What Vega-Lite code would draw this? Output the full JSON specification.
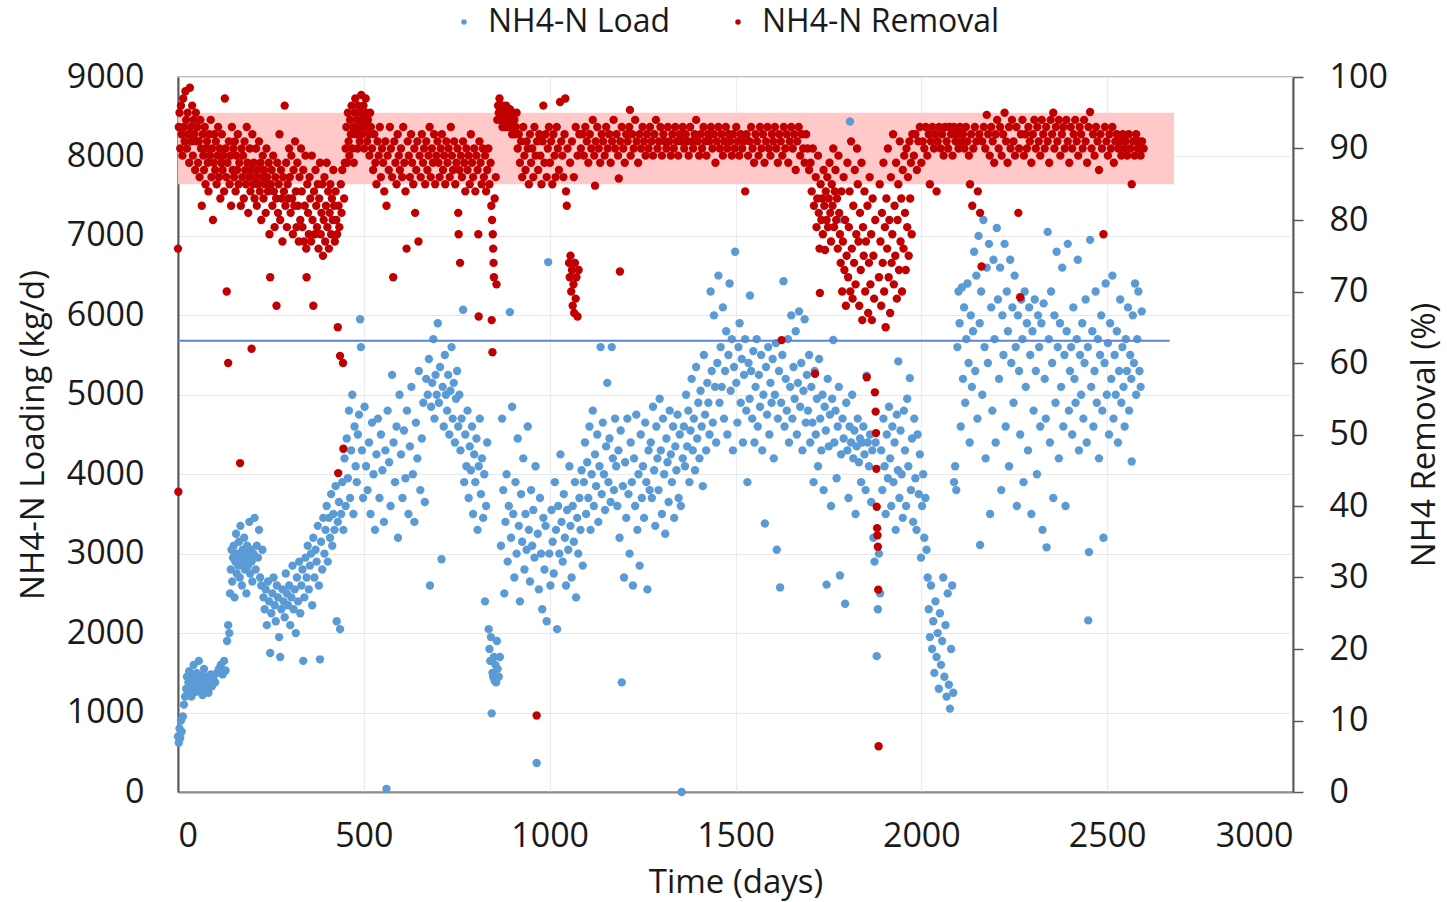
{
"$schema": "https://vega.github.io/schema/vega-lite/v6.json",
"width": 1115,
"height": 715,
"autosize": {"type": "none"},
"padding": {"left": 178, "top": 77, "right": 154, "bottom": 110},
"background": "white",
"config": {
  "font": "Open Sans",
  "view": {"stroke": "#a6a6a6", "strokeWidth": 1.5},
  "axis": {"labelFontSize": 34, "titleFontSize": 33, "labelColor": "#1a1a1a", "titleColor": "#1a1a1a", "titleFontWeight": "normal", "gridColor": "#e8e8e8", "gridWidth": 1.2, "domainColor": "#595959", "tickColor": "#595959", "domainWidth": 2, "format": "d"}
},
"datasets": {
  "band": [{"t0": 0, "t1": 2680, "lo": 85, "hi": 95}],
  "line": [{"t0": 0, "t1": 2668, "v": 5680}],
  "load": [
{"t":0,"v":700},{"t":2,"v":620},{"t":4,"v":800},{"t":6,"v":680},{"t":8,"v":900},{"t":10,"v":760},{"t":13,"v":950},{"t":16,"v":1100},{"t":19,"v":1200},
{"t":22,"v":1300},{"t":24,"v":1450},{"t":26,"v":1250},{"t":28,"v":1380},{"t":30,"v":1520},{"t":32,"v":1330},{"t":34,"v":1410},{"t":36,"v":1200},{"t":38,"v":1480},{"t":40,"v":1350},{"t":42,"v":1600},{"t":44,"v":1300},{"t":46,"v":1420},{"t":48,"v":1260},{"t":50,"v":1500},{"t":52,"v":1380},{"t":54,"v":1330},{"t":56,"v":1650},{"t":58,"v":1440},{"t":60,"v":1310},{"t":62,"v":1390},{"t":64,"v":1470},{"t":66,"v":1220},{"t":68,"v":1360},{"t":70,"v":1550},{"t":72,"v":1400},{"t":74,"v":1290},{"t":76,"v":1450},{"t":78,"v":1350},{"t":80,"v":1410},{"t":82,"v":1250},{"t":85,"v":1380},{"t":88,"v":1480},{"t":91,"v":1330},{"t":95,"v":1430},{"t":100,"v":1380},{"t":105,"v":1500},{"t":110,"v":1550},{"t":115,"v":1600},{"t":120,"v":1480},{"t":124,"v":1650},{"t":128,"v":1530},
{"t":132,"v":1900},{"t":135,"v":2100},{"t":138,"v":2000},{"t":140,"v":2500},{"t":142,"v":2800},{"t":144,"v":3050},{"t":146,"v":2650},{"t":148,"v":2950},{"t":150,"v":3100},{"t":152,"v":2450},{"t":154,"v":2900},{"t":156,"v":3250},{"t":158,"v":2750},{"t":160,"v":3000},{"t":162,"v":2850},{"t":164,"v":3150},{"t":166,"v":2700},{"t":168,"v":3350},{"t":170,"v":2950},{"t":172,"v":2600},{"t":174,"v":3050},{"t":176,"v":2900},{"t":178,"v":3200},{"t":180,"v":2800},{"t":182,"v":3000},{"t":184,"v":2500},{"t":186,"v":3100},{"t":188,"v":2850},{"t":190,"v":2950},{"t":192,"v":3400},{"t":194,"v":2750},{"t":196,"v":3050},{"t":198,"v":2900},{"t":200,"v":2650},{"t":203,"v":3000},{"t":206,"v":3450},{"t":209,"v":2800},{"t":212,"v":3100},{"t":215,"v":2950},{"t":218,"v":3300},{"t":221,"v":2700},{"t":224,"v":2600},{"t":227,"v":3050},{"t":230,"v":2450},
{"t":233,"v":2300},{"t":236,"v":2550},{"t":239,"v":2100},{"t":242,"v":2650},{"t":245,"v":2400},{"t":248,"v":1750},{"t":251,"v":2250},{"t":254,"v":2500},{"t":257,"v":2700},{"t":260,"v":2350},{"t":263,"v":2150},{"t":266,"v":2600},{"t":269,"v":2450},{"t":272,"v":1950},{"t":275,"v":1700},{"t":278,"v":2300},{"t":281,"v":2550},{"t":284,"v":2400},{"t":287,"v":2200},{"t":290,"v":2750},{"t":293,"v":2500},{"t":296,"v":2350},{"t":299,"v":2600},{"t":302,"v":2100},{"t":305,"v":2450},{"t":308,"v":2850},{"t":311,"v":2300},{"t":314,"v":2550},{"t":317,"v":2000},{"t":320,"v":2700},{"t":323,"v":2400},{"t":326,"v":2900},{"t":329,"v":2250},
{"t":332,"v":2600},{"t":335,"v":2800},{"t":337,"v":1650},{"t":340,"v":2450},{"t":343,"v":2950},{"t":346,"v":2700},{"t":349,"v":3100},{"t":352,"v":2550},{"t":355,"v":2850},{"t":358,"v":3000},{"t":361,"v":2350},{"t":364,"v":3200},{"t":367,"v":2700},{"t":370,"v":3050},{"t":373,"v":2900},{"t":376,"v":3350},{"t":379,"v":2600},{"t":382,"v":1670},{"t":385,"v":3150},{"t":388,"v":2800},{"t":391,"v":3450},{"t":394,"v":3000},{"t":397,"v":3300},{"t":400,"v":3600},{"t":403,"v":2900},{"t":406,"v":3450},{"t":409,"v":3200},{"t":412,"v":3750},{"t":415,"v":3100},{"t":418,"v":3500},{"t":421,"v":3300},{"t":424,"v":3850},{"t":427,"v":2150},{"t":430,"v":3400},{"t":433,"v":3650},{"t":436,"v":2050},{"t":439,"v":3500},{"t":442,"v":3900},{"t":445,"v":3300},
{"t":448,"v":4200},{"t":451,"v":3600},{"t":454,"v":4450},{"t":457,"v":3950},{"t":460,"v":4800},{"t":463,"v":3700},{"t":466,"v":4300},{"t":469,"v":5000},{"t":472,"v":3500},{"t":475,"v":4600},{"t":478,"v":4100},{"t":481,"v":3900},{"t":484,"v":4500},{"t":487,"v":4750},{"t":490,"v":5950},{"t":492,"v":5600},{"t":495,"v":4300},{"t":498,"v":3700},
{"t":502,"v":4850},{"t":506,"v":4100},{"t":510,"v":3800},{"t":514,"v":4400},{"t":518,"v":3500},{"t":522,"v":4650},{"t":526,"v":4000},{"t":530,"v":3300},{"t":534,"v":4250},{"t":538,"v":4700},{"t":542,"v":3700},{"t":546,"v":4500},{"t":550,"v":4050},{"t":554,"v":3400},{"t":558,"v":4300},{"t":561,"v":40},{"t":564,"v":4800},{"t":568,"v":4150},{"t":572,"v":3600},{"t":576,"v":5250},{"t":580,"v":4400},{"t":584,"v":3900},{"t":588,"v":4600},{"t":592,"v":3200},{"t":596,"v":5000},{"t":600,"v":4250},{"t":604,"v":3700},{"t":608,"v":4550},{"t":612,"v":3950},{"t":616,"v":4800},{"t":620,"v":3500},{"t":624,"v":4350},{"t":628,"v":5100},{"t":632,"v":4000},{"t":636,"v":3400},{"t":640,"v":4650},{"t":644,"v":4200},{"t":648,"v":5300},{"t":652,"v":3800},{"t":656,"v":4450},{"t":660,"v":4900},{"t":664,"v":3650},{"t":668,"v":5200},
{"t":672,"v":5000},{"t":675,"v":5450},{"t":678,"v":2600},{"t":681,"v":4850},{"t":684,"v":5150},{"t":687,"v":5700},{"t":690,"v":4700},{"t":693,"v":5250},{"t":696,"v":5000},{"t":699,"v":5900},{"t":702,"v":4900},{"t":705,"v":5350},{"t":709,"v":2930},{"t":712,"v":5100},{"t":715,"v":4600},{"t":718,"v":5500},{"t":721,"v":5000},{"t":724,"v":4800},{"t":727,"v":5250},{"t":730,"v":4500},{"t":733,"v":5050},{"t":736,"v":5600},{"t":739,"v":4700},{"t":742,"v":5150},{"t":745,"v":4400},{"t":748,"v":4950},{"t":751,"v":5300},{"t":754,"v":4600},{"t":757,"v":5000},
{"t":760,"v":4300},{"t":763,"v":4700},{"t":767,"v":6070},{"t":770,"v":3900},{"t":773,"v":4500},{"t":776,"v":4100},{"t":779,"v":4800},{"t":782,"v":3700},{"t":785,"v":4350},{"t":788,"v":4050},{"t":791,"v":4600},{"t":794,"v":3500},{"t":797,"v":4250},{"t":800,"v":3900},{"t":803,"v":4450},{"t":806,"v":3300},{"t":809,"v":4100},{"t":812,"v":4700},{"t":815,"v":3750},{"t":818,"v":4200},{"t":821,"v":3450},{"t":824,"v":4000},{"t":826,"v":2400},{"t":829,"v":3600},{"t":832,"v":4400},
{"t":836,"v":2050},{"t":838,"v":1800},{"t":840,"v":1650},{"t":842,"v":1950},{"t":844,"v":990},{"t":846,"v":1500},{"t":848,"v":1450},{"t":850,"v":1700},{"t":852,"v":1400},{"t":854,"v":1600},{"t":856,"v":1380},{"t":858,"v":1900},{"t":860,"v":1550},{"t":863,"v":1450},{"t":866,"v":1700},
{"t":869,"v":3100},{"t":872,"v":4700},{"t":875,"v":3800},{"t":878,"v":2500},{"t":881,"v":3400},{"t":884,"v":4000},{"t":887,"v":2900},{"t":890,"v":3600},{"t":893,"v":6040},{"t":896,"v":3200},{"t":899,"v":4850},{"t":902,"v":3500},{"t":905,"v":2700},{"t":908,"v":3900},{"t":911,"v":3000},{"t":914,"v":4450},{"t":917,"v":3350},{"t":920,"v":2400},{"t":923,"v":3750},{"t":926,"v":3150},{"t":929,"v":4200},{"t":932,"v":2800},{"t":935,"v":3500},{"t":938,"v":3050},{"t":941,"v":4600},{"t":944,"v":3300},{"t":947,"v":2650},{"t":950,"v":3800},{"t":953,"v":3100},{"t":956,"v":3550},{"t":959,"v":2950},{"t":962,"v":4100},{"t":965,"v":365},{"t":968,"v":3250},{"t":971,"v":2550},{"t":974,"v":3700},{"t":977,"v":3000},{"t":980,"v":2300},{"t":983,"v":3450},{"t":986,"v":2800},{"t":989,"v":3350},{"t":992,"v":2150},{"t":996,"v":6670},{"t":999,"v":3000},{"t":1002,"v":2600},{"t":1005,"v":3550},{"t":1008,"v":3150},{"t":1011,"v":2750},{"t":1014,"v":3900},{"t":1017,"v":3300},{"t":1020,"v":2050},{"t":1023,"v":3600},{"t":1026,"v":3000},{"t":1029,"v":4250},
{"t":1032,"v":3400},{"t":1035,"v":2900},{"t":1038,"v":3750},{"t":1041,"v":3200},{"t":1044,"v":2600},{"t":1047,"v":3550},{"t":1050,"v":3050},{"t":1053,"v":4100},{"t":1056,"v":3350},{"t":1059,"v":2700},{"t":1062,"v":3600},{"t":1065,"v":3150},{"t":1068,"v":3900},{"t":1071,"v":2450},{"t":1074,"v":3450},{"t":1077,"v":3000},{"t":1080,"v":3700},{"t":1083,"v":3300},{"t":1086,"v":4050},{"t":1089,"v":2850},
{"t":1092,"v":3900},{"t":1095,"v":4400},{"t":1098,"v":3500},{"t":1101,"v":4150},{"t":1104,"v":3700},{"t":1107,"v":4600},{"t":1110,"v":3300},{"t":1113,"v":4000},{"t":1116,"v":4800},{"t":1119,"v":3600},{"t":1122,"v":4250},{"t":1125,"v":3850},{"t":1128,"v":4500},{"t":1131,"v":3400},{"t":1134,"v":4100},{"t":1137,"v":5600},{"t":1140,"v":3750},{"t":1143,"v":4650},{"t":1146,"v":4000},{"t":1149,"v":3550},{"t":1152,"v":4350},{"t":1155,"v":5150},{"t":1158,"v":3900},{"t":1161,"v":4450},{"t":1164,"v":3650},{"t":1167,"v":5600},{"t":1170,"v":4200},{"t":1173,"v":3800},{"t":1176,"v":4700},{"t":1179,"v":4100},
{"t":1182,"v":3600},{"t":1185,"v":4300},{"t":1188,"v":3200},{"t":1191,"v":4550},{"t":1194,"v":1380},{"t":1197,"v":3850},{"t":1200,"v":2700},{"t":1203,"v":4150},{"t":1206,"v":3450},{"t":1209,"v":4700},{"t":1212,"v":3750},{"t":1215,"v":3000},{"t":1218,"v":4400},{"t":1221,"v":3900},{"t":1224,"v":2600},{"t":1227,"v":4200},{"t":1230,"v":3600},{"t":1233,"v":4750},{"t":1236,"v":3300},{"t":1239,"v":4000},{"t":1242,"v":2850},{"t":1245,"v":4500},{"t":1248,"v":3700},{"t":1251,"v":4100},{"t":1254,"v":3450},{"t":1257,"v":4650},{"t":1260,"v":3900},{"t":1263,"v":2550},{"t":1266,"v":4300},{"t":1269,"v":3800},
{"t":1272,"v":4400},{"t":1275,"v":3700},{"t":1278,"v":4850},{"t":1281,"v":4050},{"t":1284,"v":3350},{"t":1287,"v":4600},{"t":1290,"v":4200},{"t":1293,"v":3800},{"t":1296,"v":4950},{"t":1299,"v":4300},{"t":1302,"v":3500},{"t":1305,"v":4700},{"t":1308,"v":4000},{"t":1311,"v":3250},{"t":1314,"v":4450},{"t":1317,"v":4150},{"t":1320,"v":3650},{"t":1323,"v":4800},{"t":1326,"v":4250},{"t":1329,"v":3900},{"t":1332,"v":4600},{"t":1335,"v":3450},{"t":1338,"v":4350},{"t":1341,"v":4050},{"t":1344,"v":4750},{"t":1347,"v":3700},{"t":1350,"v":4500},{"t":1353,"v":3600},{"t":1355,"v":0},{"t":1358,"v":4200},
{"t":1361,"v":4600},{"t":1364,"v":4100},{"t":1367,"v":5000},{"t":1370,"v":4350},{"t":1373,"v":4800},{"t":1376,"v":3900},{"t":1379,"v":4550},{"t":1382,"v":5200},{"t":1385,"v":4300},{"t":1388,"v":4700},{"t":1391,"v":4050},{"t":1394,"v":5350},{"t":1397,"v":4450},{"t":1400,"v":4900},{"t":1403,"v":4200},{"t":1406,"v":5050},{"t":1409,"v":4600},{"t":1412,"v":3850},{"t":1415,"v":5500},{"t":1418,"v":4750},{"t":1421,"v":4300},{"t":1424,"v":5150},{"t":1427,"v":4900},{"t":1430,"v":4500},{"t":1433,"v":6300},{"t":1436,"v":5300},{"t":1439,"v":4650},{"t":1442,"v":6000},{"t":1445,"v":5100},{"t":1448,"v":4400},
{"t":1451,"v":5400},{"t":1454,"v":6500},{"t":1457,"v":4900},{"t":1460,"v":5600},{"t":1463,"v":5100},{"t":1466,"v":6100},{"t":1469,"v":4700},{"t":1472,"v":5300},{"t":1475,"v":5800},{"t":1478,"v":4500},{"t":1481,"v":5500},{"t":1484,"v":6400},{"t":1487,"v":5050},{"t":1490,"v":5700},{"t":1493,"v":4300},{"t":1496,"v":5350},{"t":1499,"v":6800},{"t":1502,"v":5150},{"t":1505,"v":4650},{"t":1508,"v":5600},{"t":1511,"v":5900},{"t":1514,"v":4900},{"t":1517,"v":5450},{"t":1520,"v":4400},{"t":1523,"v":5250},{"t":1526,"v":5700},{"t":1529,"v":4800},{"t":1532,"v":3900},{"t":1535,"v":5400},{"t":1538,"v":4950},
{"t":1539,"v":6250},{"t":1542,"v":5300},{"t":1545,"v":4700},{"t":1548,"v":5550},{"t":1551,"v":4400},{"t":1554,"v":5100},{"t":1557,"v":5700},{"t":1560,"v":4600},{"t":1563,"v":5250},{"t":1566,"v":4850},{"t":1569,"v":5500},{"t":1572,"v":4300},{"t":1575,"v":5000},{"t":1579,"v":3380},{"t":1582,"v":5350},{"t":1585,"v":4750},{"t":1588,"v":5600},{"t":1591,"v":4500},{"t":1594,"v":5150},{"t":1597,"v":4900},{"t":1600,"v":5450},{"t":1603,"v":4200},{"t":1606,"v":5000},{"t":1609,"v":5650},{"t":1611,"v":3050},{"t":1614,"v":4700},{"t":1617,"v":5300},{"t":1620,"v":2575},{"t":1623,"v":4900},{"t":1626,"v":5500},{"t":1629,"v":6430},{"t":1632,"v":4600},{"t":1635,"v":5200},{"t":1638,"v":4800},{"t":1641,"v":5700},{"t":1644,"v":4400},{"t":1647,"v":5100},{"t":1650,"v":6000},{"t":1653,"v":4700},{"t":1656,"v":5350},{"t":1659,"v":4950},{"t":1662,"v":5800},{"t":1665,"v":4500},{"t":1668,"v":5150},{"t":1671,"v":6050},{"t":1674,"v":4850},{"t":1677,"v":5400},{"t":1680,"v":4300},{"t":1683,"v":5050},{"t":1686,"v":5950},{"t":1689,"v":4650},{"t":1692,"v":5250},
{"t":1695,"v":4800},{"t":1698,"v":5500},{"t":1701,"v":4400},{"t":1704,"v":5100},{"t":1707,"v":4650},{"t":1710,"v":3900},{"t":1713,"v":5300},{"t":1716,"v":4500},{"t":1719,"v":4950},{"t":1722,"v":4100},{"t":1725,"v":5450},{"t":1728,"v":4700},{"t":1731,"v":4300},{"t":1734,"v":5000},{"t":1737,"v":3800},{"t":1740,"v":4850},{"t":1743,"v":4550},{"t":1745,"v":2610},{"t":1748,"v":5200},{"t":1751,"v":4350},{"t":1754,"v":4750},{"t":1757,"v":3600},{"t":1760,"v":4950},{"t":1763,"v":5690},{"t":1766,"v":4400},{"t":1769,"v":4800},{"t":1772,"v":3950},{"t":1775,"v":4600},{"t":1778,"v":5100},{"t":1781,"v":2725},{"t":1784,"v":4250},{"t":1785,"v":7210},{"t":1788,"v":4700},{"t":1791,"v":4450},{"t":1795,"v":2370},{"t":1798,"v":4900},{"t":1801,"v":4300},{"t":1804,"v":3700},{"t":1807,"v":4600},{"t":1808,"v":8440},{"t":1811,"v":4400},{"t":1814,"v":5000},{"t":1817,"v":4200},{"t":1820,"v":4550},{"t":1823,"v":3500},{"t":1826,"v":4350},{"t":1829,"v":4700},{"t":1832,"v":4150},{"t":1835,"v":4450},{"t":1838,"v":3900},{"t":1841,"v":4400},{"t":1844,"v":4600},{"t":1847,"v":4250},{"t":1850,"v":3800},{"t":1853,"v":5240},{"t":1856,"v":4400},{"t":1859,"v":4100},{"t":1862,"v":4500},{"t":1865,"v":3650},{"t":1868,"v":4300},
{"t":1871,"v":3200},{"t":1874,"v":2900},{"t":1877,"v":4400},{"t":1880,"v":1710},{"t":1883,"v":2300},{"t":1886,"v":3000},{"t":1889,"v":2500},
{"t":1892,"v":4300},{"t":1895,"v":3800},{"t":1898,"v":4700},{"t":1901,"v":4100},{"t":1904,"v":3500},{"t":1907,"v":4500},{"t":1910,"v":3950},{"t":1913,"v":4850},{"t":1916,"v":4200},{"t":1919,"v":3600},{"t":1922,"v":4600},{"t":1925,"v":3900},{"t":1928,"v":4400},{"t":1931,"v":3300},{"t":1934,"v":4750},{"t":1937,"v":4050},{"t":1938,"v":5420},{"t":1941,"v":3700},{"t":1944,"v":4550},{"t":1947,"v":4000},{"t":1950,"v":3450},{"t":1953,"v":4800},{"t":1956,"v":4300},{"t":1959,"v":3600},{"t":1962,"v":4950},{"t":1965,"v":4100},{"t":1969,"v":5210},{"t":1972,"v":3800},{"t":1975,"v":4450},{"t":1978,"v":3400},{"t":1981,"v":4700},{"t":1984,"v":3950},{"t":1987,"v":3300},{"t":1990,"v":4500},{"t":1993,"v":3750},{"t":1996,"v":4250},{"t":1999,"v":2950},{"t":2002,"v":3600},{"t":2005,"v":4000},{"t":2008,"v":3200},{"t":2011,"v":3700},{"t":2014,"v":3050},
{"t":2017,"v":2700},{"t":2020,"v":2300},{"t":2023,"v":1950},{"t":2026,"v":2600},{"t":2029,"v":1800},{"t":2032,"v":2150},{"t":2035,"v":1500},{"t":2038,"v":2400},{"t":2041,"v":1700},{"t":2044,"v":2000},{"t":2047,"v":1300},{"t":2050,"v":2250},{"t":2053,"v":1600},{"t":2056,"v":1900},{"t":2059,"v":2700},{"t":2062,"v":1450},{"t":2065,"v":2100},{"t":2068,"v":1200},{"t":2071,"v":2500},{"t":2074,"v":1350},{"t":2077,"v":1050},{"t":2080,"v":1800},{"t":2083,"v":2600},{"t":2086,"v":1250},
{"t":2088,"v":3900},{"t":2091,"v":4100},{"t":2094,"v":3800},{"t":2097,"v":5600},{"t":2100,"v":6300},{"t":2103,"v":5900},{"t":2106,"v":4600},{"t":2109,"v":6350},{"t":2112,"v":5200},{"t":2115,"v":6100},{"t":2118,"v":4900},{"t":2121,"v":5700},{"t":2124,"v":6400},{"t":2127,"v":5400},{"t":2130,"v":4400},{"t":2133,"v":6000},{"t":2136,"v":5100},{"t":2139,"v":5800},
{"t":2142,"v":6800},{"t":2145,"v":5300},{"t":2148,"v":6500},{"t":2151,"v":4700},{"t":2154,"v":7000},{"t":2157,"v":5900},{"t":2158,"v":3110},{"t":2161,"v":6300},{"t":2164,"v":5000},{"t":2167,"v":7200},{"t":2170,"v":5600},{"t":2173,"v":4200},{"t":2176,"v":6600},{"t":2179,"v":5400},{"t":2182,"v":6900},{"t":2185,"v":3500},{"t":2188,"v":6100},{"t":2191,"v":4800},{"t":2194,"v":6700},{"t":2197,"v":5700},{"t":2200,"v":4400},{"t":2203,"v":7100},{"t":2206,"v":6200},{"t":2209,"v":5200},{"t":2212,"v":6600},{"t":2215,"v":3800},{"t":2218,"v":6000},{"t":2221,"v":5500},{"t":2224,"v":6900},{"t":2227,"v":4600},{"t":2230,"v":6300},{"t":2233,"v":5800},{"t":2236,"v":4100},{"t":2239,"v":6700},{"t":2242,"v":5400},{"t":2245,"v":6100},{"t":2248,"v":4900},{"t":2251,"v":6500},{"t":2254,"v":5600},{"t":2257,"v":3600},
{"t":2260,"v":6000},{"t":2263,"v":5300},{"t":2266,"v":4500},{"t":2269,"v":6200},{"t":2272,"v":5700},{"t":2275,"v":3900},{"t":2278,"v":6300},{"t":2281,"v":5100},{"t":2284,"v":5900},{"t":2287,"v":4300},{"t":2290,"v":6100},{"t":2293,"v":5500},{"t":2296,"v":3500},{"t":2299,"v":5800},{"t":2302,"v":4800},{"t":2305,"v":6200},{"t":2308,"v":5300},{"t":2311,"v":4000},{"t":2314,"v":6000},{"t":2317,"v":5600},{"t":2320,"v":4600},{"t":2323,"v":5900},{"t":2326,"v":3300},{"t":2329,"v":6150},{"t":2332,"v":5200},{"t":2335,"v":4700},{"t":2337,"v":3080},{"t":2340,"v":7050},{"t":2343,"v":5700},{"t":2346,"v":4400},{"t":2349,"v":6300},{"t":2352,"v":5400},{"t":2355,"v":3700},{"t":2358,"v":6000},{"t":2361,"v":4900},{"t":2364,"v":6800},{"t":2367,"v":5600},{"t":2370,"v":4200},{"t":2373,"v":5900},{"t":2376,"v":5100},{"t":2379,"v":6600},{"t":2382,"v":4600},{"t":2385,"v":5500},{"t":2388,"v":3600},{"t":2391,"v":5800},{"t":2394,"v":6900},{"t":2397,"v":4800},{"t":2400,"v":5300},
{"t":2403,"v":5600},{"t":2406,"v":4500},{"t":2409,"v":6100},{"t":2412,"v":5200},{"t":2415,"v":4900},{"t":2418,"v":5700},{"t":2421,"v":6700},{"t":2424,"v":4300},{"t":2427,"v":5500},{"t":2430,"v":5000},{"t":2433,"v":5900},{"t":2436,"v":4700},{"t":2439,"v":5400},{"t":2442,"v":6200},{"t":2445,"v":4400},{"t":2448,"v":5600},{"t":2449,"v":2160},{"t":2451,"v":3020},{"t":2454,"v":6950},{"t":2457,"v":5100},{"t":2460,"v":5800},{"t":2463,"v":4600},{"t":2466,"v":5300},{"t":2469,"v":6300},{"t":2472,"v":4900},{"t":2475,"v":5700},{"t":2478,"v":4200},{"t":2481,"v":5500},{"t":2484,"v":6000},{"t":2487,"v":4800},{"t":2490,"v":3200},{"t":2493,"v":5400},{"t":2496,"v":6400},{"t":2499,"v":5000},{"t":2502,"v":5650},{"t":2505,"v":4500},{"t":2508,"v":5900},{"t":2511,"v":5200},{"t":2514,"v":6500},{"t":2517,"v":4700},{"t":2520,"v":5500},{"t":2523,"v":5000},{"t":2526,"v":5800},{"t":2529,"v":4400},{"t":2532,"v":5300},{"t":2535,"v":6200},{"t":2538,"v":4900},{"t":2541,"v":5600},{"t":2544,"v":5100},{"t":2547,"v":4600},{"t":2550,"v":5700},{"t":2553,"v":5300},{"t":2556,"v":6100},{"t":2559,"v":4800},{"t":2562,"v":5500},{"t":2565,"v":5200},{"t":2566,"v":4160},{"t":2569,"v":6000},{"t":2572,"v":5400},{"t":2575,"v":6400},{"t":2578,"v":5000},{"t":2581,"v":5700},{"t":2584,"v":6300},{"t":2587,"v":5300},{"t":2590,"v":5100},{"t":2593,"v":6050}
  ],
  "rem": [
{"t":0,"v":76},{"t":1,"v":42},{"t":2,"v":93},{"t":4,"v":95},{"t":6,"v":90},{"t":8,"v":96},{"t":10,"v":92},{"t":12,"v":89},{"t":14,"v":97},{"t":16,"v":93},{"t":18,"v":91},{"t":20,"v":98},{"t":22,"v":94},{"t":24,"v":90},{"t":26,"v":95},{"t":28,"v":92},{"t":30,"v":88},{"t":32,"v":98.5},{"t":34,"v":93},{"t":36,"v":91},{"t":38,"v":96},{"t":40,"v":89},{"t":42,"v":94},{"t":44,"v":92},{"t":46,"v":87},{"t":48,"v":95},{"t":50,"v":91},
{"t":52,"v":93},{"t":54,"v":88},{"t":56,"v":91},{"t":58,"v":86},{"t":60,"v":94},{"t":62,"v":90},{"t":64,"v":82},{"t":66,"v":92},{"t":68,"v":89},{"t":70,"v":87},{"t":72,"v":93},{"t":74,"v":85},{"t":76,"v":90},{"t":78,"v":91},{"t":80,"v":88},{"t":82,"v":84},{"t":84,"v":92},{"t":86,"v":89},{"t":88,"v":94},{"t":90,"v":86},{"t":92,"v":90},{"t":94,"v":80},{"t":96,"v":88},{"t":98,"v":92},{"t":100,"v":87},{"t":102,"v":91},{"t":104,"v":85},{"t":106,"v":89},{"t":108,"v":93},{"t":110,"v":86},{"t":112,"v":90},{"t":114,"v":83},{"t":116,"v":88},{"t":118,"v":92},{"t":120,"v":87},{"t":122,"v":89},{"t":124,"v":84},{"t":126,"v":97},{"t":128,"v":90},{"t":130,"v":86},{"t":131,"v":70},{"t":133,"v":88},{"t":135,"v":60},{"t":137,"v":91},{"t":139,"v":85},{"t":141,"v":89},{"t":143,"v":82},{"t":145,"v":93},{"t":147,"v":87},{"t":149,"v":90},
{"t":151,"v":86},{"t":153,"v":91},{"t":155,"v":84},{"t":157,"v":89},{"t":159,"v":87},{"t":161,"v":92},{"t":163,"v":85},{"t":165,"v":88},{"t":167,"v":46},{"t":169,"v":82},{"t":171,"v":90},{"t":173,"v":86},{"t":175,"v":89},{"t":177,"v":83},{"t":179,"v":91},{"t":181,"v":87},{"t":183,"v":85},{"t":185,"v":93},{"t":187,"v":88},{"t":189,"v":81},{"t":191,"v":86},{"t":193,"v":90},{"t":195,"v":84},{"t":197,"v":87},{"t":198,"v":62},{"t":200,"v":92},{"t":202,"v":85},{"t":204,"v":88},{"t":206,"v":83},{"t":208,"v":86},{"t":210,"v":90},{"t":212,"v":82},{"t":214,"v":87},{"t":216,"v":85},{"t":218,"v":91},{"t":220,"v":84},{"t":222,"v":88},{"t":224,"v":80},{"t":226,"v":86},{"t":228,"v":89},{"t":230,"v":83},{"t":232,"v":87},{"t":234,"v":85},{"t":236,"v":81},{"t":238,"v":90},{"t":240,"v":86},{"t":242,"v":84},{"t":244,"v":88},{"t":246,"v":78},{"t":248,"v":72},{"t":250,"v":85},{"t":252,"v":87},{"t":254,"v":82},{"t":256,"v":89},{"t":258,"v":84},{"t":260,"v":79},{"t":262,"v":86},{"t":264,"v":83},{"t":265,"v":68},{"t":267,"v":88},{"t":269,"v":81},{"t":271,"v":85},{"t":273,"v":92},{"t":275,"v":80},{"t":277,"v":87},{"t":279,"v":83},{"t":281,"v":77},{"t":283,"v":86},{"t":285,"v":84},{"t":287,"v":96},{"t":289,"v":82},{"t":291,"v":88},{"t":293,"v":79},{"t":295,"v":85},{"t":297,"v":83},{"t":299,"v":90},
{"t":301,"v":86},{"t":303,"v":81},{"t":305,"v":89},{"t":307,"v":83},{"t":309,"v":78},{"t":311,"v":87},{"t":313,"v":82},{"t":315,"v":91},{"t":317,"v":84},{"t":319,"v":79},{"t":321,"v":88},{"t":323,"v":82},{"t":325,"v":77},{"t":327,"v":86},{"t":329,"v":80},{"t":331,"v":90},{"t":333,"v":84},{"t":335,"v":79},{"t":337,"v":87},{"t":339,"v":77},{"t":341,"v":82},{"t":343,"v":89},{"t":345,"v":76},{"t":346,"v":72},{"t":348,"v":85},{"t":350,"v":81},{"t":352,"v":78},{"t":354,"v":86},{"t":356,"v":83},{"t":358,"v":77},{"t":360,"v":89},{"t":362,"v":80},{"t":364,"v":68},{"t":366,"v":84},{"t":368,"v":78},{"t":370,"v":87},{"t":372,"v":82},{"t":374,"v":79},{"t":376,"v":85},{"t":378,"v":76},{"t":380,"v":83},{"t":382,"v":88},{"t":384,"v":78},{"t":386,"v":81},{"t":388,"v":85},{"t":390,"v":75},{"t":392,"v":80},{"t":394,"v":86},{"t":396,"v":77},{"t":398,"v":82},{"t":400,"v":88},{"t":402,"v":79},{"t":404,"v":84},{"t":406,"v":76},{"t":408,"v":81},{"t":410,"v":85},{"t":412,"v":78},{"t":414,"v":83},{"t":416,"v":80},{"t":418,"v":87},{"t":420,"v":82},{"t":422,"v":77},{"t":424,"v":84},{"t":426,"v":80},{"t":428,"v":78},{"t":430,"v":65},{"t":431,"v":44.6},{"t":432,"v":82},{"t":434,"v":79},{"t":436,"v":61},{"t":438,"v":85},{"t":440,"v":81},{"t":442,"v":87},{"t":444,"v":60},{"t":445,"v":48},{"t":447,"v":83},{"t":449,"v":88},
{"t":451,"v":90},{"t":453,"v":93},{"t":455,"v":88},{"t":457,"v":95},{"t":459,"v":91},{"t":461,"v":89},{"t":463,"v":94},{"t":465,"v":92},{"t":467,"v":96},{"t":469,"v":90},{"t":471,"v":93},{"t":473,"v":88},{"t":475,"v":95},{"t":477,"v":97},{"t":479,"v":92},{"t":481,"v":94},{"t":483,"v":90},{"t":485,"v":96},{"t":487,"v":93},{"t":489,"v":91},{"t":491,"v":95},{"t":493,"v":97.5},{"t":495,"v":92},{"t":497,"v":94},{"t":499,"v":96},{"t":501,"v":90},{"t":503,"v":93},{"t":505,"v":97},{"t":507,"v":95},{"t":509,"v":91},{"t":511,"v":94},{"t":513,"v":92},{"t":515,"v":89},{"t":517,"v":95},{"t":519,"v":93},
{"t":522,"v":90},{"t":525,"v":87},{"t":528,"v":92},{"t":531,"v":88},{"t":534,"v":85},{"t":537,"v":91},{"t":540,"v":89},{"t":543,"v":93},{"t":546,"v":86},{"t":549,"v":90},{"t":552,"v":88},{"t":555,"v":84},{"t":558,"v":91},{"t":561,"v":82},{"t":564,"v":89},{"t":567,"v":87},{"t":570,"v":93},{"t":573,"v":90},{"t":576,"v":86},{"t":579,"v":72},{"t":582,"v":91},{"t":585,"v":88},{"t":588,"v":85},{"t":591,"v":92},{"t":594,"v":89},{"t":597,"v":87},{"t":600,"v":90},{"t":603,"v":86},{"t":606,"v":93},{"t":609,"v":88},{"t":612,"v":84},{"t":615,"v":76},{"t":618,"v":91},{"t":621,"v":89},{"t":624,"v":86},{"t":627,"v":92},{"t":630,"v":88},{"t":633,"v":85},{"t":636,"v":90},{"t":638,"v":81},{"t":641,"v":87},{"t":644,"v":91},{"t":647,"v":77},{"t":650,"v":89},{"t":653,"v":86},{"t":656,"v":92},{"t":659,"v":88},{"t":662,"v":90},{"t":665,"v":85},{"t":668,"v":91},{"t":671,"v":87},{"t":674,"v":89},{"t":677,"v":93},{"t":680,"v":86},{"t":683,"v":90},{"t":686,"v":88},{"t":689,"v":92},{"t":692,"v":85},{"t":695,"v":89},{"t":698,"v":91},
{"t":701,"v":88},{"t":704,"v":86},{"t":707,"v":90},{"t":710,"v":92},{"t":713,"v":87},{"t":716,"v":89},{"t":719,"v":85},{"t":722,"v":91},{"t":725,"v":88},{"t":728,"v":90},{"t":731,"v":86},{"t":734,"v":93},{"t":737,"v":89},{"t":740,"v":87},{"t":743,"v":91},{"t":746,"v":85},{"t":749,"v":88},{"t":752,"v":90},{"t":754,"v":81},{"t":755,"v":78},{"t":757,"v":87},{"t":759,"v":74},{"t":761,"v":89},{"t":764,"v":86},{"t":767,"v":91},{"t":770,"v":88},{"t":773,"v":84},{"t":776,"v":90},{"t":779,"v":87},{"t":782,"v":89},{"t":785,"v":85},{"t":788,"v":92},{"t":791,"v":88},{"t":794,"v":86},{"t":797,"v":90},{"t":800,"v":84},{"t":803,"v":89},{"t":806,"v":87},{"t":808,"v":78},{"t":809,"v":66.5},{"t":811,"v":91},{"t":814,"v":88},{"t":817,"v":85},{"t":820,"v":90},{"t":823,"v":86},{"t":826,"v":89},{"t":829,"v":84},{"t":832,"v":87},{"t":835,"v":90},{"t":838,"v":85},{"t":841,"v":88},{"t":843,"v":82},{"t":844,"v":66},{"t":845,"v":80},{"t":846,"v":61.5},{"t":847,"v":78},{"t":848,"v":76},{"t":849,"v":74},{"t":850,"v":72},{"t":852,"v":83},{"t":855,"v":86},{"t":857,"v":71},
{"t":859,"v":94},{"t":861,"v":96},{"t":863,"v":95},{"t":865,"v":97},{"t":867,"v":94},{"t":869,"v":96},{"t":871,"v":95},{"t":873,"v":93},{"t":875,"v":96},{"t":877,"v":94},{"t":879,"v":95},{"t":881,"v":93},{"t":883,"v":96},{"t":885,"v":94},{"t":887,"v":95},{"t":889,"v":93},{"t":891,"v":94},{"t":893,"v":95.5},{"t":895,"v":93},{"t":897,"v":94},{"t":899,"v":92},{"t":901,"v":95},{"t":903,"v":93},{"t":905,"v":94},{"t":907,"v":92},{"t":909,"v":93},{"t":911,"v":95},
{"t":914,"v":90},{"t":917,"v":92},{"t":920,"v":88},{"t":923,"v":91},{"t":926,"v":86},{"t":929,"v":93},{"t":932,"v":89},{"t":935,"v":87},{"t":938,"v":91},{"t":941,"v":90},{"t":944,"v":85},{"t":947,"v":92},{"t":950,"v":88},{"t":953,"v":90},{"t":956,"v":86},{"t":959,"v":93},{"t":962,"v":89},{"t":965,"v":10.7},{"t":966,"v":91},{"t":969,"v":87},{"t":972,"v":92},{"t":975,"v":89},{"t":978,"v":85},{"t":981,"v":91},{"t":983,"v":96},{"t":986,"v":88},{"t":989,"v":92},{"t":992,"v":86},{"t":995,"v":90},{"t":998,"v":93},{"t":1001,"v":88},{"t":1004,"v":91},{"t":1007,"v":85},{"t":1010,"v":92},{"t":1013,"v":89},{"t":1016,"v":86},{"t":1019,"v":93},{"t":1022,"v":90},{"t":1025,"v":87},{"t":1028,"v":96.5},{"t":1031,"v":91},{"t":1034,"v":89},{"t":1037,"v":86},{"t":1040,"v":92},{"t":1042,"v":97},{"t":1044,"v":84},{"t":1046,"v":82},{"t":1048,"v":90},
{"t":1052,"v":74},{"t":1054,"v":72},{"t":1056,"v":75},{"t":1058,"v":70},{"t":1060,"v":73},{"t":1062,"v":68},{"t":1064,"v":71},{"t":1066,"v":67},{"t":1068,"v":74},{"t":1070,"v":69},{"t":1072,"v":72},{"t":1075,"v":66.5},{"t":1078,"v":73},
{"t":1055,"v":88},{"t":1060,"v":91},{"t":1065,"v":86},{"t":1070,"v":93},{"t":1075,"v":89},{"t":1080,"v":92},
{"t":1084,"v":90},{"t":1088,"v":92},{"t":1092,"v":89},{"t":1096,"v":93},{"t":1100,"v":91},{"t":1104,"v":88},{"t":1108,"v":92},{"t":1112,"v":90},{"t":1116,"v":94},{"t":1120,"v":89},{"t":1122,"v":84.8},{"t":1124,"v":91},{"t":1128,"v":93},{"t":1132,"v":90},{"t":1136,"v":88},{"t":1140,"v":92},{"t":1144,"v":91},{"t":1148,"v":89},{"t":1152,"v":93},{"t":1156,"v":90},{"t":1160,"v":92},{"t":1164,"v":88},{"t":1168,"v":91},{"t":1172,"v":94},{"t":1176,"v":90},{"t":1180,"v":92},{"t":1184,"v":89},{"t":1186,"v":85.8},{"t":1189,"v":72.8},{"t":1190,"v":91},{"t":1194,"v":93},{"t":1198,"v":90},{"t":1202,"v":88},{"t":1206,"v":92},{"t":1210,"v":91},{"t":1214,"v":93},{"t":1216,"v":95.4},{"t":1218,"v":89},{"t":1222,"v":92},{"t":1226,"v":90},{"t":1230,"v":94},{"t":1234,"v":91},{"t":1238,"v":88},{"t":1242,"v":92},{"t":1246,"v":90},{"t":1250,"v":93},{"t":1254,"v":91},{"t":1258,"v":89},{"t":1262,"v":92},{"t":1266,"v":90},{"t":1270,"v":93},{"t":1274,"v":91},{"t":1278,"v":89},{"t":1282,"v":92},{"t":1286,"v":94},{"t":1290,"v":90},{"t":1294,"v":91},{"t":1298,"v":93},{"t":1302,"v":89},{"t":1306,"v":92},{"t":1310,"v":91},{"t":1314,"v":90},{"t":1318,"v":93},{"t":1322,"v":91},{"t":1326,"v":89},{"t":1330,"v":92},{"t":1334,"v":90},{"t":1338,"v":93},{"t":1342,"v":91},{"t":1346,"v":89},{"t":1350,"v":92},{"t":1354,"v":91},{"t":1358,"v":93},{"t":1362,"v":90},{"t":1366,"v":92},{"t":1370,"v":91},{"t":1374,"v":89},{"t":1378,"v":93},{"t":1382,"v":91},{"t":1386,"v":90},{"t":1390,"v":92},{"t":1394,"v":94},{"t":1398,"v":91},{"t":1402,"v":89},{"t":1406,"v":92},{"t":1410,"v":90},{"t":1414,"v":93},{"t":1418,"v":91},{"t":1422,"v":89},{"t":1426,"v":92},{"t":1430,"v":91},{"t":1434,"v":93},{"t":1438,"v":90},{"t":1442,"v":92},{"t":1446,"v":88},{"t":1450,"v":91},{"t":1454,"v":93},{"t":1458,"v":90},{"t":1462,"v":92},{"t":1466,"v":89},{"t":1470,"v":91},{"t":1474,"v":93},{"t":1478,"v":90},{"t":1482,"v":92},{"t":1486,"v":91},{"t":1490,"v":89},{"t":1494,"v":92},{"t":1498,"v":90},{"t":1502,"v":93},{"t":1506,"v":91},{"t":1510,"v":89},{"t":1514,"v":92},{"t":1518,"v":90},{"t":1522,"v":91},{"t":1526,"v":84},{"t":1530,"v":92},{"t":1534,"v":89},{"t":1538,"v":91},{"t":1542,"v":93},{"t":1546,"v":90},{"t":1550,"v":88},{"t":1554,"v":92},{"t":1558,"v":91},{"t":1562,"v":89},{"t":1566,"v":93},{"t":1570,"v":90},{"t":1574,"v":92},{"t":1578,"v":88},{"t":1582,"v":91},{"t":1586,"v":93},{"t":1590,"v":90},{"t":1594,"v":89},{"t":1598,"v":92},{"t":1602,"v":91},{"t":1606,"v":93},{"t":1610,"v":90},{"t":1614,"v":88},{"t":1618,"v":92},{"t":1622,"v":91},{"t":1624,"v":63.2},{"t":1626,"v":89},{"t":1630,"v":93},{"t":1634,"v":90},{"t":1638,"v":92},{"t":1642,"v":88},{"t":1646,"v":91},{"t":1650,"v":93},{"t":1654,"v":90},{"t":1658,"v":92},{"t":1662,"v":87},{"t":1666,"v":91},{"t":1670,"v":93},{"t":1674,"v":89},{"t":1678,"v":92},{"t":1682,"v":90},{"t":1686,"v":88},{"t":1690,"v":92},{"t":1694,"v":90},{"t":1698,"v":87},
{"t":1702,"v":88},{"t":1705,"v":84},{"t":1708,"v":90},{"t":1711,"v":82},{"t":1714,"v":58.5},{"t":1716,"v":86},{"t":1718,"v":79},{"t":1720,"v":83},{"t":1722,"v":89},{"t":1724,"v":81},{"t":1726,"v":76},{"t":1727,"v":69.8},{"t":1729,"v":85},{"t":1731,"v":80},{"t":1733,"v":83},{"t":1735,"v":78},{"t":1737,"v":87},{"t":1739,"v":82},{"t":1741,"v":75.8},{"t":1743,"v":84},{"t":1745,"v":80},{"t":1747,"v":86},{"t":1749,"v":79},{"t":1751,"v":83},{"t":1753,"v":88},{"t":1755,"v":81},{"t":1757,"v":77},{"t":1759,"v":85},{"t":1761,"v":82},{"t":1763,"v":90},{"t":1765,"v":79},{"t":1767,"v":84},{"t":1769,"v":87},{"t":1771,"v":80},{"t":1773,"v":83},{"t":1775,"v":76},{"t":1777,"v":89},{"t":1779,"v":81},{"t":1781,"v":78},{"t":1783,"v":74},{"t":1785,"v":84},{"t":1787,"v":70},{"t":1789,"v":77},{"t":1791,"v":86},{"t":1793,"v":73},{"t":1795,"v":80},{"t":1797,"v":68},{"t":1799,"v":75},{"t":1801,"v":88},{"t":1803,"v":72},{"t":1805,"v":79},{"t":1807,"v":84},{"t":1809,"v":70},{"t":1811,"v":91},{"t":1813,"v":76},{"t":1815,"v":69},{"t":1817,"v":82},{"t":1819,"v":74},{"t":1821,"v":87},{"t":1823,"v":71},{"t":1825,"v":78},{"t":1827,"v":90},
{"t":1829,"v":85},{"t":1831,"v":77},{"t":1833,"v":68},{"t":1835,"v":81},{"t":1837,"v":73},{"t":1839,"v":88},{"t":1841,"v":66},{"t":1843,"v":79},{"t":1845,"v":75},{"t":1847,"v":84},{"t":1849,"v":70},{"t":1851,"v":77},{"t":1853,"v":58},{"t":1855,"v":82},{"t":1857,"v":67},{"t":1859,"v":74},{"t":1861,"v":86},{"t":1863,"v":71},{"t":1865,"v":78},{"t":1867,"v":66},{"t":1869,"v":83},{"t":1871,"v":75},{"t":1873,"v":69},{"t":1875,"v":55.9},{"t":1876,"v":80},{"t":1877,"v":53.2},{"t":1878,"v":50.2},{"t":1879,"v":45.2},{"t":1880,"v":39.9},{"t":1881,"v":36.9},{"t":1882,"v":35.9},{"t":1883,"v":34.3},{"t":1884,"v":28.3},{"t":1885,"v":6.4},{"t":1886,"v":72},{"t":1888,"v":85},{"t":1890,"v":77},{"t":1892,"v":68},{"t":1894,"v":81},{"t":1896,"v":74},{"t":1898,"v":88},{"t":1900,"v":70},{"t":1902,"v":79},{"t":1904,"v":65},{"t":1906,"v":83},{"t":1908,"v":76},{"t":1910,"v":90},{"t":1912,"v":72},{"t":1914,"v":80},{"t":1916,"v":67},{"t":1918,"v":86},{"t":1920,"v":74},{"t":1922,"v":78},{"t":1924,"v":92},{"t":1926,"v":71},{"t":1928,"v":82},{"t":1930,"v":75},{"t":1932,"v":88},{"t":1934,"v":69},{"t":1936,"v":80},{"t":1938,"v":85},{"t":1940,"v":73},{"t":1942,"v":91},{"t":1944,"v":77},{"t":1946,"v":83},{"t":1948,"v":70},{"t":1950,"v":87},{"t":1952,"v":76},{"t":1954,"v":89},{"t":1956,"v":81},{"t":1958,"v":73},{"t":1960,"v":90},{"t":1962,"v":79},{"t":1964,"v":86},{"t":1966,"v":75},{"t":1968,"v":91},{"t":1970,"v":83},{"t":1972,"v":88},{"t":1974,"v":78},{"t":1976,"v":92},
{"t":1980,"v":89},{"t":1984,"v":92},{"t":1988,"v":87},{"t":1992,"v":91},{"t":1996,"v":93},{"t":2000,"v":88},{"t":2004,"v":91},{"t":2008,"v":90},{"t":2012,"v":93},{"t":2016,"v":89},{"t":2020,"v":92},{"t":2023,"v":85},{"t":2026,"v":91},{"t":2030,"v":93},{"t":2034,"v":90},{"t":2038,"v":92},{"t":2041,"v":84},{"t":2044,"v":91},{"t":2048,"v":93},{"t":2052,"v":90},{"t":2056,"v":92},{"t":2060,"v":89},{"t":2064,"v":93},{"t":2068,"v":91},{"t":2072,"v":90},{"t":2076,"v":93},{"t":2080,"v":92},{"t":2084,"v":89},{"t":2088,"v":93},{"t":2092,"v":91},{"t":2096,"v":92},{"t":2100,"v":90},{"t":2104,"v":93},{"t":2108,"v":91},{"t":2112,"v":92},{"t":2116,"v":90},{"t":2120,"v":93},{"t":2124,"v":91},{"t":2128,"v":89},{"t":2131,"v":85},{"t":2134,"v":92},{"t":2137,"v":82},{"t":2140,"v":90},{"t":2144,"v":93},{"t":2148,"v":91},{"t":2152,"v":84},{"t":2156,"v":92},{"t":2158,"v":81},{"t":2162,"v":73.5},{"t":2164,"v":91},{"t":2168,"v":93},{"t":2172,"v":90},{"t":2176,"v":94.7},{"t":2180,"v":92},{"t":2184,"v":89},{"t":2188,"v":93},{"t":2192,"v":91},{"t":2196,"v":88},{"t":2200,"v":92},{"t":2204,"v":94},{"t":2208,"v":90},{"t":2212,"v":93},{"t":2216,"v":89},{"t":2220,"v":92},{"t":2224,"v":95},{"t":2228,"v":91},{"t":2232,"v":88},{"t":2236,"v":93},{"t":2240,"v":90},{"t":2244,"v":94},{"t":2248,"v":91},{"t":2252,"v":89},{"t":2256,"v":93},{"t":2261,"v":81},{"t":2263,"v":90},{"t":2266,"v":69.2},{"t":2268,"v":92},{"t":2272,"v":94},{"t":2276,"v":89},{"t":2280,"v":92},{"t":2284,"v":90},{"t":2288,"v":93},{"t":2292,"v":91},{"t":2296,"v":88},{"t":2300,"v":92},{"t":2304,"v":94},{"t":2308,"v":90},{"t":2312,"v":93},{"t":2316,"v":91},{"t":2320,"v":89},{"t":2324,"v":94},{"t":2328,"v":92},{"t":2332,"v":90},{"t":2336,"v":93},{"t":2340,"v":91},{"t":2344,"v":88},{"t":2348,"v":94},{"t":2352,"v":92},{"t":2355,"v":95},{"t":2358,"v":90},{"t":2362,"v":93},{"t":2366,"v":91},{"t":2370,"v":94},{"t":2374,"v":89},{"t":2378,"v":92},{"t":2382,"v":93},{"t":2386,"v":90},{"t":2390,"v":94},{"t":2394,"v":91},{"t":2398,"v":88},{"t":2402,"v":93},{"t":2406,"v":90},{"t":2410,"v":92},{"t":2414,"v":94},{"t":2418,"v":91},{"t":2422,"v":89},{"t":2426,"v":93},{"t":2430,"v":92},{"t":2434,"v":90},{"t":2438,"v":94},{"t":2442,"v":91},{"t":2446,"v":88},{"t":2450,"v":93},{"t":2454,"v":95.1},{"t":2458,"v":90},{"t":2462,"v":92},{"t":2466,"v":89},{"t":2470,"v":93},{"t":2474,"v":91},{"t":2478,"v":87},{"t":2482,"v":92},{"t":2486,"v":90},{"t":2490,"v":78},{"t":2494,"v":93},{"t":2498,"v":91},{"t":2502,"v":89},{"t":2506,"v":92},{"t":2510,"v":90},{"t":2514,"v":93},{"t":2518,"v":88},{"t":2522,"v":91},{"t":2526,"v":92},{"t":2530,"v":90},{"t":2534,"v":91},{"t":2538,"v":89},{"t":2542,"v":92},{"t":2546,"v":90},{"t":2550,"v":91},{"t":2554,"v":89},{"t":2558,"v":92},{"t":2562,"v":90},{"t":2566,"v":85},{"t":2570,"v":91},{"t":2574,"v":89},{"t":2578,"v":92},{"t":2582,"v":90},{"t":2586,"v":91},{"t":2590,"v":89},{"t":2594,"v":91},{"t":2598,"v":90}
  ]
},
"layer": [
  {
    "data": {"name": "band"},
    "mark": {"type": "rect", "color": "#ffc9c9", "opacity": 1},
    "encoding": {
      "x": {"field": "t0", "type": "quantitative", "scale": {"domain": [0, 3000]}, "axis": {"title": "Time (days)", "values": [0, 500, 1000, 1500, 2000, 2500, 3000], "grid": true, "gridColor": "#ececec", "ticks": false, "labelPadding": 27, "titlePadding": 13, "domainColor": "#8c8c8c"}},
      "x2": {"field": "t1"},
      "y": {"field": "lo", "type": "quantitative", "scale": {"domain": [0, 100]}, "axis": null},
      "y2": {"field": "hi"}
    }
  },
  {
    "data": {"name": "load"},
    "mark": {"type": "circle", "size": 70, "opacity": 1},
    "encoding": {
      "x": {"field": "t", "type": "quantitative", "scale": {"domain": [0, 3000]}, "axis": {"title": "Time (days)", "values": [0, 500, 1000, 1500, 2000, 2500, 3000], "grid": true, "gridColor": "#ececec", "ticks": false, "labelPadding": 27, "titlePadding": 13, "domainColor": "#8c8c8c"}},
      "y": {"field": "v", "type": "quantitative", "scale": {"domain": [0, 9000]}, "axis": {"orient": "left", "title": "NH4-N Loading (kg/d)", "values": [0, 1000, 2000, 3000, 4000, 5000, 6000, 7000, 8000, 9000], "grid": true, "ticks": false, "labelPadding": 34, "titlePadding": 16}},
      "color": {"datum": "NH4-N Load", "type": "nominal", "scale": {"domain": ["NH4-N Load", "NH4-N Removal"], "range": ["#5b9bd5", "#c00000"]}, "legend": {"orient": "none", "legendX": 270, "legendY": -71, "direction": "horizontal", "title": null, "labelFontSize": 32, "labelLimit": 0, "labelColor": "#1a1a1a", "symbolType": "circle", "symbolSize": 30, "symbolStrokeWidth": 0, "columnPadding": 52, "labelOffset": 8}}
    }
  },
  {
    "data": {"name": "line"},
    "mark": {"type": "rule", "color": "#5b84d6", "strokeWidth": 2},
    "encoding": {
      "x": {"field": "t0", "type": "quantitative", "scale": {"domain": [0, 3000]}, "axis": {"title": "Time (days)", "values": [0, 500, 1000, 1500, 2000, 2500, 3000], "grid": true, "gridColor": "#ececec", "ticks": false, "labelPadding": 27, "titlePadding": 13, "domainColor": "#8c8c8c"}},
      "x2": {"field": "t1"},
      "y": {"field": "v", "type": "quantitative", "scale": {"domain": [0, 9000]}, "axis": null}
    }
  },
  {
    "data": {"name": "rem"},
    "mark": {"type": "circle", "size": 70, "opacity": 1},
    "encoding": {
      "x": {"field": "t", "type": "quantitative", "scale": {"domain": [0, 3000]}, "axis": {"title": "Time (days)", "values": [0, 500, 1000, 1500, 2000, 2500, 3000], "grid": true, "gridColor": "#ececec", "ticks": false, "labelPadding": 27, "titlePadding": 13, "domainColor": "#8c8c8c"}},
      "y": {"field": "v", "type": "quantitative", "scale": {"domain": [0, 100]}, "axis": {"orient": "right", "title": "NH4 Removal (%)", "titleAngle": 270, "values": [0, 10, 20, 30, 40, 50, 60, 70, 80, 90, 100], "grid": false, "ticks": true, "tickSize": 10, "tickWidth": 1.5, "labelPadding": 26, "titlePadding": 54}},
      "color": {"datum": "NH4-N Removal", "type": "nominal"}
    }
  }
],
"resolve": {"scale": {"y": "independent"}}
}
